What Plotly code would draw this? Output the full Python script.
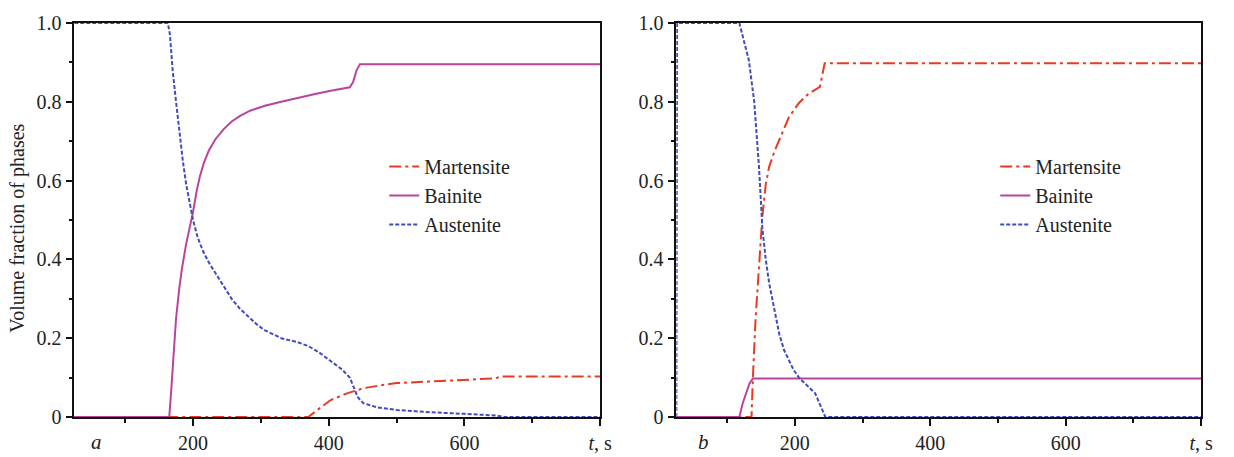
import plotly.graph_objects as go

# ---------------- data (panel a) ----------------
a_t_mar = [25, 370, 385, 403, 427, 451, 475, 500, 548, 600, 645, 655, 800]
a_mar = [0, 0, 0.02, 0.043, 0.06, 0.073, 0.08, 0.086, 0.09, 0.094, 0.098, 0.103, 0.103]

a_t_bai = [25, 165, 168, 171, 175, 180, 184, 190, 194, 200, 205, 210, 216, 223, 233, 245, 257, 270, 285, 306, 330, 354, 380, 403, 431, 436, 441, 446, 800]
a_bai = [0, 0, 0.07, 0.15, 0.25, 0.33, 0.38, 0.44, 0.47, 0.52, 0.57, 0.61, 0.645, 0.675, 0.705, 0.73, 0.75, 0.765, 0.778, 0.79, 0.80, 0.81, 0.82, 0.828, 0.837, 0.85, 0.88, 0.895, 0.895]

a_t_aus = [25, 163, 166, 170, 175, 180, 185, 190, 195, 200, 207, 215, 224, 233, 245, 257, 269, 281, 294, 306, 330, 354, 370, 385, 405, 420, 431, 437, 443, 451, 470, 500, 550, 600, 645, 660, 800]
a_aus = [1.0, 1.0, 0.97, 0.88, 0.80, 0.72, 0.65, 0.59, 0.54, 0.50, 0.455, 0.42, 0.39, 0.365, 0.33, 0.30, 0.275, 0.255, 0.235, 0.22, 0.20, 0.19, 0.18, 0.165, 0.14, 0.12, 0.10, 0.075, 0.05, 0.035, 0.025, 0.018, 0.012, 0.008, 0.004, 0.0, 0.0]

# ---------------- data (panel b) ----------------
b_t_mar = [25, 136, 138, 142, 147, 152, 157, 162, 170, 177, 184, 191, 199, 206, 220, 237, 244, 800]
b_mar = [0, 0, 0.10, 0.25, 0.38, 0.51, 0.59, 0.635, 0.675, 0.705, 0.735, 0.76, 0.78, 0.797, 0.82, 0.838, 0.898, 0.898]

b_t_bai = [25, 118, 123, 128, 133, 138, 800]
b_bai = [0, 0, 0.035, 0.06, 0.085, 0.098, 0.098]

b_t_aus = [25, 26, 118, 125, 132, 140, 147, 152, 157, 162, 170, 177, 184, 191, 198, 206, 218, 230, 245, 800]
b_aus = [0, 1.0, 1.0, 0.95, 0.906, 0.80, 0.635, 0.48, 0.40, 0.34, 0.27, 0.21, 0.17, 0.145, 0.12, 0.10, 0.08, 0.06, 0.0, 0.0]

names = ["Martensite", "Bainite", "Austenite"]
colors = ["#e63b22", "#b8449e", "#3d4cbf"]
dashes = ["12px,4px,3px,4px", "solid", "4px,2px"]

x_major = [200, 400, 600, 800]
x_labels = ["200", "400", "600", "<i>t</i>, s"]
y_major = [0, 0.2, 0.4, 0.6, 0.8, 1.0]
y_labels = ["0", "0.2", "0.4", "0.6", "0.8", "1.0"]

FONT = "Liberation Serif"

fig = go.Figure()

panels = [
    ("x", "y", "legend", [(a_t_mar, a_mar), (a_t_bai, a_bai), (a_t_aus, a_aus)]),
    ("x2", "y2", "legend2", [(b_t_mar, b_mar), (b_t_bai, b_bai), (b_t_aus, b_aus)]),
]
for xa, ya, leg, series in panels:
    for i, (t, v) in enumerate(series):
        fig.add_trace(go.Scatter(
            x=t, y=v, mode="lines", name=names[i],
            line=dict(color=colors[i], width=2, dash=dashes[i]),
            xaxis=xa, yaxis=ya, legend=leg, legendgroup=leg + str(i),
        ))

axis_common = dict(
    showline=True, linecolor="#111", linewidth=1.5, mirror=True,
    showgrid=False, zeroline=False,
    ticks="outside", ticklen=7, tickwidth=1.5, tickcolor="#111",
    tickfont=dict(family=FONT, size=20, color="#222"),
)
xax = dict(axis_common, range=[25, 800], tickmode="array", tickvals=x_major, ticktext=x_labels,
           minor=dict(tickmode="array", tickvals=[100, 300, 500, 700], ticks="outside", ticklen=4, tickwidth=1.5, tickcolor="#111"))
yax = dict(axis_common, range=[0, 1.0], tickmode="array", tickvals=y_major, ticktext=y_labels,
           minor=dict(tickmode="array", tickvals=[0.1, 0.3, 0.5, 0.7, 0.9], ticks="outside", ticklen=4, tickwidth=1.5, tickcolor="#111"))

legend_common = dict(
    font=dict(family=FONT, size=20, color="#222"),
    bgcolor="rgba(255,255,255,0)", tracegroupgap=0,
    xanchor="left", yanchor="top", y=0.685,
)

fig.update_layout(
    width=1234, height=457,
    margin=dict(l=0, r=0, t=23, b=40),
    paper_bgcolor="white", plot_bgcolor="white",
    xaxis=dict(xax, domain=[75 / 1234, 606 / 1234], anchor="y"),
    yaxis=dict(yax, domain=[0, 1], anchor="x"),
    xaxis2=dict(xax, domain=[683 / 1234, 1213 / 1234], anchor="y2"),
    yaxis2=dict(yax, domain=[0, 1], anchor="x2"),
    legend=dict(legend_common, x=388 / 1234),
    legend2=dict(legend_common, x=1005 / 1234),
    showlegend=True,
    annotations=[
        dict(text="Volume fraction of phases", x=18 / 1234, y=0.48, xref="paper", yref="paper",
             textangle=-90, showarrow=False, xanchor="center", yanchor="middle",
             font=dict(family=FONT, size=20, color="#222")),
        dict(text="<i>a</i>", x=97 / 1234, y=-0.098, xref="paper", yref="paper", showarrow=False,
             xanchor="center", yanchor="bottom", font=dict(family=FONT, size=21, color="#222")),
        dict(text="<i>b</i>", x=710 / 1234, y=-0.098, xref="paper", yref="paper", showarrow=False,
             xanchor="center", yanchor="bottom", font=dict(family=FONT, size=21, color="#222")),
    ],
)

fig.write_html("out.html")
